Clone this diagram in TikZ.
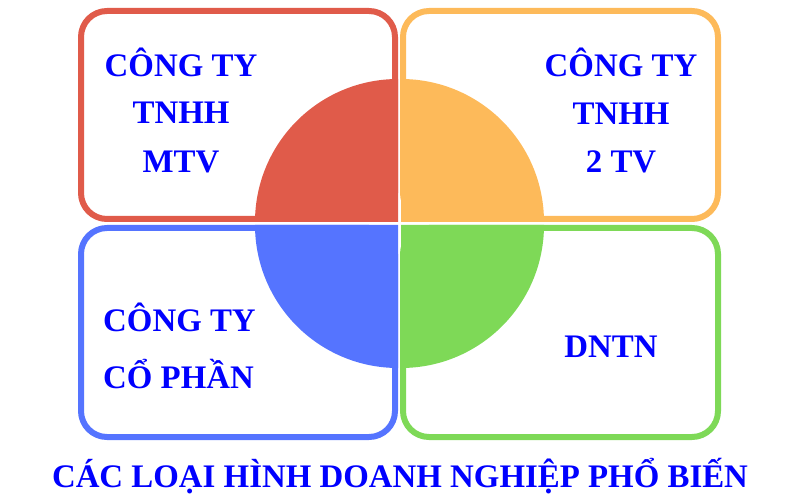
\documentclass[tikz,border=0pt]{standalone}
\usepackage{fontspec}
\setmainfont{Liberation Serif}

\definecolor{boxred}{HTML}{E05B4A}
\definecolor{boxorange}{HTML}{FDBA5A}
\definecolor{boxblue}{HTML}{5574FF}
\definecolor{boxgreen}{HTML}{7ED957}
\definecolor{textblue}{HTML}{0000FF}

\tikzset{
  box/.style={line width=6bp, rounded corners=26bp},
  word/.style={text=textblue, font=\fontsize{33}{39}\selectfont\bfseries, inner sep=0pt, anchor=base},
}

\begin{document}
\begin{tikzpicture}[x=1bp, y=-1bp]
  \useasboundingbox (0,0) rectangle (800,500);

  % Boxes
  \draw[box, draw=boxred] (81,11) rectangle (395,219);
  \draw[box, draw=boxorange] (403,11) rectangle (718,219);
  \draw[box, draw=boxblue] (81,228) rectangle (395,437);
  \draw[box, draw=boxgreen] (403,228) rectangle (718,437);

  % Quarter circles
  \fill[boxred] (398,222) -- (255,222) arc[start angle=180, end angle=270, radius=143] -- cycle;
  \fill[boxorange] (401,222) -- (544,222) arc[start angle=0, end angle=-90, radius=143] -- cycle;
  \fill[boxblue] (398,225) -- (255,225) arc[start angle=180, end angle=90, radius=143] -- cycle;
  \fill[boxgreen] (401,225) -- (544,225) arc[start angle=0, end angle=90, radius=143] -- cycle;

  % Top left
  \node[word] (ctyA) at (181,77) {CÔNG TY};
  \node[word] (tnhhA) at (181,124) {TNHH};
  \node[word] (mtv) at (181,173) {MTV};
  % Top right
  \node[word] (ctyB) at (621,77) {CÔNG TY};
  \node[word] (tnhhB) at (621,125) {TNHH};
  \node[word] (twotv) at (621,173) {2 TV};
  % Bottom left
  \node[word, anchor=base west] (ctyC) at (103,331) {CÔNG TY};
  \node[word, anchor=base west] (cophan) at (103,388) {CỔ PHẦN};
  % Bottom right
  \node[word] (dntn) at (611,357) {DNTN};

  % Title
  \node[word] (title) at (400,487) {CÁC LOẠI HÌNH DOANH NGHIỆP PHỔ BIẾN};
\end{tikzpicture}
\end{document}
